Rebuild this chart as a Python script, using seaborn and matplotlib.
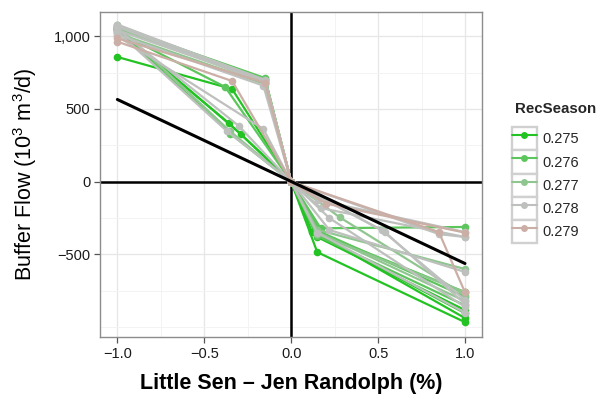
import numpy as np
import pandas as pd
import matplotlib
matplotlib.use("Agg")
import matplotlib.pyplot as plt
import seaborn as sns
from matplotlib.lines import Line2D
from matplotlib.patches import Rectangle
from matplotlib.legend_handler import HandlerTuple
from matplotlib.ticker import FuncFormatter, MultipleLocator

# ---------------- data ----------------
season_levels = ["0.275", "0.276", "0.277", "0.278", "0.279"]
season_colors = ["#22C322", "#5CC55C", "#8FC68F", "#BDC0BD", "#CBAEA5"]

line_season = ["0.275", "0.275", "0.275", "0.275",
               "0.276", "0.276", "0.276", "0.276",
               "0.277", "0.277", "0.277", "0.277",
               "0.278", "0.278", "0.278", "0.278", "0.278", "0.278", "0.278", "0.278",
               "0.279", "0.279"]
y_minus1 = [857, 1040, 1055, 1050,
            1065, 1030, 1048, 1075,
            1060, 1045, 1020, 1070,
            1075, 1050, 1000, 1030, 1065, 1040, 1080, 1010,
            962, 985]
x_left = [-0.34, -0.36, -0.29, -0.15,
          -0.15, -0.38, -0.35, -0.15,
          -0.15, -0.15, -0.15, -0.35,
          -0.15, -0.30, -0.16, -0.37, -0.15, -0.15, -0.15, -0.16,
          -0.34, -0.15]
y_left = [637, 404, 328, 705,
          712, 651, 330, 690,
          680, 700, 670, 345,
          700, 382, 362, 348, 680, 690, 695, 660,
          692, 680]
x_mid = [0.0] * 22
y_mid = [0.0] * 22
x_right = [0.15, 0.12, 0.15, 0.15,
           0.15, 0.17, 0.15, 0.17,
           0.15, 0.28, 0.15, 0.15,
           0.155, 0.17, 0.22, 0.52, 0.22, 0.85, 0.15, 0.54,
           0.85, 0.20]
y_right = [-484, -346, -380, -360,
           -350, -346, -372, -320,
           -330, -245, -346, -360,
           -126, -181, -332, -332, -250, -360, -350, -346,
           -346, -150]
y_plus1 = [-965, -903, -882, -937,
           -758, -790, -850, -311,
           -600, -780, -820, -760,
           -346, -380, -620, -813, -860, -380, -900, -840,
           -760, -350]

ref_x = [-1.0, 1.0]
ref_y = [565, -562]

# ---------------- build long table ----------------
rows = []
for i, s in enumerate(line_season):
    xs = [-1.0, x_left[i], x_mid[i], x_right[i], 1.0]
    ys = [y_minus1[i], y_left[i], y_mid[i], y_right[i], y_plus1[i]]
    for k, (xv, yv) in enumerate(zip(xs, ys)):
        rows.append({"line": i, "order": k, "x": xv, "y": yv, "RecSeason": s})
df = pd.DataFrame(rows)
ref_df = pd.DataFrame({"x": ref_x, "y": ref_y})

# ---------------- style ----------------
sns.set_style("white")
plt.rcParams["font.family"] = ["Liberation Sans", "DejaVu Sans"]
plt.rcParams["mathtext.fontset"] = "custom"
plt.rcParams["mathtext.rm"] = "Liberation Sans"
plt.rcParams["mathtext.it"] = "Liberation Sans:italic"
plt.rcParams["mathtext.bf"] = "Liberation Sans:bold"
plt.rcParams["axes.unicode_minus"] = True

fig = plt.figure(figsize=(6.08, 3.95), dpi=100)
ax = fig.add_axes([100 / 608, (395 - 337) / 395, 382 / 608, 325 / 395])

ax.set_xlim(-1.1, 1.098)
ax.set_ylim(-1067, 1166)

# grid
ax.xaxis.set_major_locator(MultipleLocator(0.5))
ax.xaxis.set_minor_locator(MultipleLocator(0.25))
ax.yaxis.set_major_locator(MultipleLocator(500))
ax.yaxis.set_minor_locator(MultipleLocator(250))
ax.grid(which="major", color="#E6E6E6", lw=0.9, zorder=0)
ax.grid(which="minor", color="#F3F3F3", lw=0.7, zorder=0)
ax.set_axisbelow(True)

# zero lines
ax.axhline(0, color="black", lw=1.8, zorder=1)
ax.axvline(0, color="black", lw=1.8, zorder=1)

palette = dict(zip(season_levels, season_colors))
sns.lineplot(data=df, x="x", y="y", hue="RecSeason", hue_order=season_levels,
             units="line", estimator=None, sort=False, palette=palette,
             marker="o", markersize=5.5, markeredgewidth=0, lw=1.6,
             legend=False, ax=ax, zorder=2)
sns.lineplot(data=ref_df, x="x", y="y", color="black", lw=2.2,
             estimator=None, sort=False, ax=ax, zorder=3)

# spines
for sp in ax.spines.values():
    sp.set_visible(True)
    sp.set_color("#8C8C8C")
    sp.set_linewidth(1.0)

def fmt_y(v, pos):
    s = f"{v:,.0f}"
    return s.replace("-", "\u2212")

def fmt_x(v, pos):
    s = f"{v:.1f}"
    if s == "-0.0":
        s = "0.0"
    return s.replace("-", "\u2212")

ax.yaxis.set_major_formatter(FuncFormatter(fmt_y))
ax.xaxis.set_major_formatter(FuncFormatter(fmt_x))
ax.set_xticks([-1.0, -0.5, 0.0, 0.5, 1.0])
ax.set_yticks([-500, 0, 500, 1000])
ax.tick_params(which="major", direction="out", length=4, width=0.9,
               color="#555555", labelsize=10.5, labelcolor="#1A1A1A",
               bottom=True, left=True, pad=3)
ax.tick_params(which="minor", length=0, bottom=False, left=False)

ax.set_xlabel("Little Sen \u2013 Jen Randolph (%)", fontsize=15.5,
              fontweight="bold", color="black")
ax.xaxis.set_label_coords(0.5, -0.11)
ax.set_ylabel(r"Buffer Flow (10$^3$ m$^3$/d)", fontsize=15.5, color="black")
ax.yaxis.set_label_coords(-0.16, 0.5)

# legend with ggplot-like key boxes
fig.text(515 / 608, (395 - 109) / 395, "RecSeason", fontsize=10.8,
         fontweight="bold", ha="left", va="center")
handles = []
for c in season_colors:
    box = Rectangle((0, 0), 1, 1, facecolor="white", edgecolor="#D0D0D0", lw=1.7)
    ln = Line2D([0], [0], color=c, lw=1.5, marker="o", markersize=5,
                markeredgewidth=0)
    handles.append((box, ln))
leg = fig.legend(handles, season_levels,
                 handler_map={tuple: HandlerTuple(ndivide=1)},
                 loc="upper left", bbox_to_anchor=(512 / 608, (395 - 127) / 395),
                 frameon=False, fontsize=10.5,
                 handlelength=1.71, handleheight=2.08, labelspacing=0.0,
                 handletextpad=0.35, borderpad=0, borderaxespad=0)

fig.savefig("out.png", dpi=100)
